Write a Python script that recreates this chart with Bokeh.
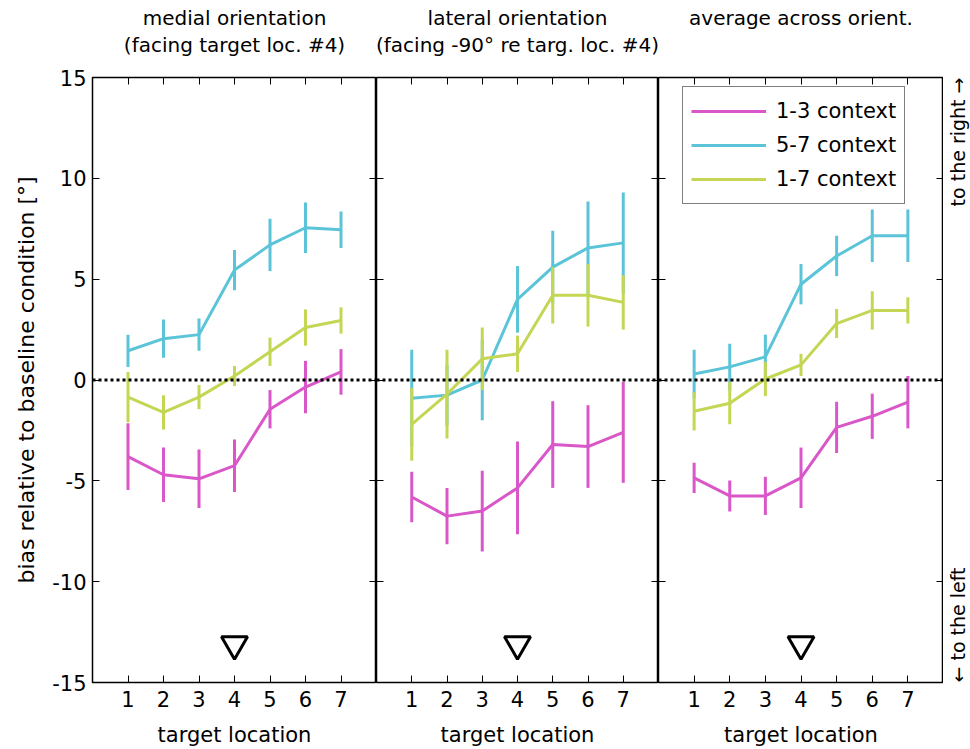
import math

from bokeh.core.properties import value
from bokeh.embed import file_html
from bokeh.layouts import row
from bokeh.models import (FixedTicker, Legend, LegendItem, LinearAxis, Range1d,
                          Span, Title)
from bokeh.plotting import figure
from bokeh.resources import INLINE

# ---------------------------------------------------------------- data
locations = [1, 2, 3, 4, 5, 6, 7]
y_ticks = [-15, -10, -5, 0, 5, 10, 15]
contexts = ["1-3 context", "5-7 context", "1-7 context"]
context_colors = ["#D957C8", "#5BC4D8", "#C4D654"]

panel_titles = [
    ("medial orientation", "(facing target loc. #4)"),
    ("lateral orientation", "(facing -90° re targ. loc. #4)"),
    ("average across orient.", " "),
]

# mean bias [deg] per context, and error bar half-lengths
medial_13 = [-3.8, -4.7, -4.9, -4.25, -1.45, -0.35, 0.4]
medial_13_err = [1.65, 1.35, 1.45, 1.3, 0.95, 1.3, 1.13]
medial_57 = [1.45, 2.05, 2.25, 5.45, 6.7, 7.55, 7.45]
medial_57_err = [0.8, 0.95, 0.8, 1.0, 1.3, 1.25, 0.9]
medial_17 = [-0.85, -1.6, -0.85, 0.2, 1.4, 2.6, 2.95]
medial_17_err = [1.25, 0.85, 0.6, 0.5, 0.7, 0.9, 0.65]

lateral_13 = [-5.8, -6.75, -6.5, -5.35, -3.2, -3.3, -2.6]
lateral_13_err = [1.25, 1.4, 2.0, 2.3, 2.15, 2.05, 2.5]
lateral_57 = [-0.9, -0.75, 0.0, 4.0, 5.6, 6.55, 6.8]
lateral_57_err = [2.4, 1.5, 2.0, 1.65, 1.8, 2.3, 2.5]
lateral_17 = [-2.2, -0.7, 1.05, 1.3, 4.2, 4.2, 3.85]
lateral_17_err = [1.8, 2.2, 1.55, 0.9, 1.4, 1.55, 1.35]

average_13 = [-4.85, -5.75, -5.75, -4.85, -2.35, -1.8, -1.1]
average_13_err = [0.75, 0.77, 0.95, 1.5, 1.27, 1.12, 1.3]
average_57 = [0.3, 0.65, 1.15, 4.75, 6.15, 7.15, 7.15]
average_57_err = [1.2, 1.15, 1.1, 1.0, 1.0, 1.3, 1.3]
average_17 = [-1.55, -1.15, 0.05, 0.75, 2.8, 3.45, 3.45]
average_17_err = [0.95, 1.05, 0.85, 0.55, 0.72, 0.95, 0.65]

panel_means = [
    [medial_13, medial_57, medial_17],
    [lateral_13, lateral_57, lateral_17],
    [average_13, average_57, average_17],
]
panel_errors = [
    [medial_13_err, medial_57_err, medial_17_err],
    [lateral_13_err, lateral_57_err, lateral_17_err],
    [average_13_err, average_57_err, average_17_err],
]

# facing direction marker (target location #4)
facing_x = [4]
facing_y = [-13.1]

# ---------------------------------------------------------------- styling
FONT = "DejaVu Sans"
X_START, X_END = 0, 8
Y_START, Y_END = -15, 15
FRAME_H = 605
FRAME_W = [284, 282, 285]
LEFT_BORDER = [92, 0, 0]
TOP_BORDER = 77
BOTTOM_BORDER = 67


def tick_only_axis(ticks, fixed):
    return LinearAxis(
        ticker=FixedTicker(ticks=ticks, minor_ticks=[]),
        fixed_location=fixed,
        major_label_overrides={t: "" for t in ticks},
        major_label_text_font_size="0px",
        major_label_standoff=0,
        major_tick_in=7, major_tick_out=0,
        major_tick_line_color="black", major_tick_line_width=1,
        minor_tick_line_color=None,
        axis_line_color=None,
    )


def style_labeled_axis(ax):
    ax.major_tick_in = 7
    ax.major_tick_out = 0
    ax.major_tick_line_color = "black"
    ax.major_tick_line_width = 1
    ax.minor_tick_line_color = None
    ax.axis_line_color = None
    ax.major_label_text_font = FONT
    ax.major_label_text_font_size = "21px"
    ax.major_label_text_color = "black"
    ax.axis_label_text_font = FONT
    ax.axis_label_text_font_size = "21px"
    ax.axis_label_text_font_style = "normal"
    ax.axis_label_text_color = "black"


def build_panel(i):
    p = figure(
        frame_width=FRAME_W[i], frame_height=FRAME_H,
        x_range=Range1d(X_START, X_END), y_range=Range1d(Y_START, Y_END),
        x_axis_location=None, y_axis_location=None, title=None,
        output_backend="svg", toolbar_location=None,
        min_border_left=LEFT_BORDER[i], min_border_right=0,
        min_border_top=TOP_BORDER, min_border_bottom=BOTTOM_BORDER,
        background_fill_color="white", border_fill_color="white",
        outline_line_color="black", outline_line_width=1.5,
    )
    p.grid.grid_line_color = None

    # bottom axis with tick labels
    xb = LinearAxis(ticker=FixedTicker(ticks=locations, minor_ticks=[]),
                    axis_label="target location",
                    major_label_overrides={t: str(t) for t in locations})
    style_labeled_axis(xb)
    xb.major_label_standoff = 8
    xb.axis_label_standoff = 13
    p.add_layout(xb, "below")

    # left axis
    if i == 0:
        yl = LinearAxis(ticker=FixedTicker(ticks=y_ticks, minor_ticks=[]),
                        axis_label="bias relative to baseline condition [°]",
                        major_label_overrides={t: str(t) for t in y_ticks})
        style_labeled_axis(yl)
        yl.axis_label_text_font_size = "22px"
        yl.major_label_standoff = 6
        yl.axis_label_standoff = 10
        p.add_layout(yl, "left")
    else:
        p.add_layout(tick_only_axis(y_ticks, X_START), "left")

    # mirrored ticks on top and right
    p.add_layout(tick_only_axis(y_ticks, X_END), "right")
    p.add_layout(tick_only_axis(locations, Y_END), "above")

    # gap between frame and the two-line panel title
    p.add_layout(Title(text=" ", text_font_size="1px", standoff=17), "above")
    line1, line2 = panel_titles[i]
    for txt, standoff in ((line2, 2), (line1, 0)):
        p.add_layout(Title(text=txt, align="center", text_font=FONT,
                           text_font_size="20px", text_font_style="normal",
                           text_color="black", standoff=standoff), "above")

    # error bars and mean lines
    renderers = []
    for means, errs, color in zip(panel_means[i], panel_errors[i], context_colors):
        lo = [m - e for m, e in zip(means, errs)]
        hi = [m + e for m, e in zip(means, errs)]
        p.segment(x0=locations, y0=lo, x1=locations, y1=hi,
                  line_color=color, line_width=3)
        renderers.append(p.line(locations, means, line_color=color, line_width=3))

    # zero-bias reference
    p.add_layout(Span(location=0, dimension="width", line_color="black",
                      line_width=3, line_dash="3 3"))

    # facing direction
    p.scatter(facing_x, facing_y, marker="inverted_triangle", size=26,
              fill_color=None, line_color="black", line_width=3)

    if i == 2:
        legend = Legend(
            items=[LegendItem(label=c, renderers=[r]) for c, r in zip(contexts, renderers)],
            location=(24, 478),
            label_text_font=FONT, label_text_font_size="21px", label_text_color="black",
            glyph_width=75, glyph_height=32, label_height=32, label_standoff=10,
            spacing=2, padding=8, margin=0,
            border_line_color="black", border_line_width=1,
            background_fill_color="white", background_fill_alpha=1.0,
        )
        p.add_layout(legend)
    return p


panels = [build_panel(i) for i in range(3)]

# direction annotation strip at the right
side = figure(
    frame_width=27, frame_height=FRAME_H,
    x_range=Range1d(0, 1), y_range=Range1d(Y_START, Y_END),
    x_axis_location=None, y_axis_location=None, title=None,
    output_backend="svg", toolbar_location=None,
    min_border_left=0, min_border_right=0,
    min_border_top=TOP_BORDER, min_border_bottom=BOTTOM_BORDER,
    background_fill_color="white", border_fill_color="white",
    outline_line_color=None,
)
side.grid.grid_line_color = None
side.text(x=[0.55], y=[Y_END], text=["to the right \u2192"], angle=math.pi / 2,
          text_align="right", text_baseline="middle", text_font=value(FONT),
          text_font_size="19px", text_color="black")
side.text(x=[0.55], y=[Y_START], text=["\u2190 to the left"], angle=math.pi / 2,
          text_align="left", text_baseline="middle", text_font=value(FONT),
          text_font_size="19px", text_color="black")

layout = row(*panels, side, spacing=0)

with open("out.html", "w") as f:
    f.write(file_html(layout, INLINE))
